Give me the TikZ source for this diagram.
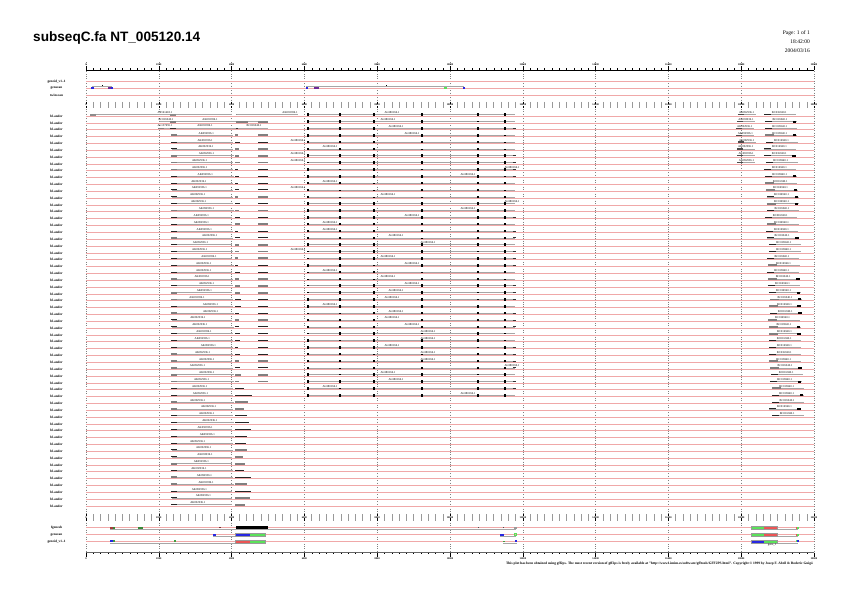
\documentclass[tikz,border=0pt]{standalone}
\usepackage{fontspec}
\setmainfont{Liberation Serif}
\newfontfamily\hvfont{Liberation Sans}
\definecolor{pk}{RGB}{240,168,168}
\definecolor{gbl}{RGB}{40,40,225}
\definecolor{ggr}{RGB}{90,225,90}
\definecolor{grd}{RGB}{235,85,85}
\definecolor{gpu}{RGB}{110,40,150}
\begin{document}
\begin{tikzpicture}[x=1pt,y=-1pt,
  pinkline/.style={draw=pk,line width=0.6pt},
  featline/.style={draw=black!35,line width=0.55pt},
  gridline/.style={draw=black!50,dotted,line width=0.35pt},
  rowlab/.style={font=\fontsize{3.4}{3.6}\selectfont\bfseries,anchor=center,inner sep=0pt},
  tinylab/.style={font=\fontsize{2.9}{3}\selectfont,inner sep=0pt,anchor=base},
  ticklab/.style={font=\fontsize{2.6}{2.8}\selectfont\bfseries,inner sep=0.2pt},
  vmk/.style={fill=black},
  boxed/.style={draw=black!40,line width=0.3pt}
]
\useasboundingbox (0,0) rectangle (842,595);
\fill[white] (0,0) rectangle (842,595);

% title and date
\node[anchor=base west,font=\hvfont\bfseries\fontsize{13.6}{14}\selectfont,inner sep=0pt] (title) at (33,41.5) {subseqC.fa NT\_005120.14};
\node[anchor=east,font=\fontsize{5.5}{6}\selectfont,inner sep=0pt] (page) at (810,33.3) {Page: 1 of 1};
\node[anchor=east,font=\fontsize{5.5}{6}\selectfont,inner sep=0pt] (time) at (810,41.8) {18:42:00};
\node[anchor=east,font=\fontsize{5.5}{6}\selectfont,inner sep=0pt] (date) at (810,50.3) {2004/03/16};

% grid lines, axes
\foreach \k in {0,...,10}{
  \pgfmathsetmacro\xx{86+72.8*\k}
  \draw[gridline] (\xx,62) -- (\xx,557);
}
\draw[line width=0.9pt] (86,70) -- (814,70);
\draw[line width=0.9pt,black!60] (86,552.7) -- (814,552.7);
\foreach \k in {0,...,100}{
  \pgfmathsetmacro\xx{86+7.28*\k}
  \pgfmathtruncatemacro\m{mod(\k,10)}
  \draw[line width=0.3pt] (\xx,70) -- (\xx,68.4);
  \draw[line width=0.3pt] (\xx,552.7) -- (\xx,554.3);
  \ifnum\m>0
    \draw[black!40,line width=0.4pt] (\xx,101.8) -- (\xx,108.2);
    \draw[black!40,line width=0.4pt] (\xx,514.1) -- (\xx,520.5);
  \fi
}

% top tracks
\foreach \yy/\nm/\id in {81.7/geneid\_v1..1/ta,88.3/genscan/tb,95/twinscan/tc}{
  \node[rowlab] (\id) at (56.5,\yy) {\nm};
  \draw[pinkline] (86,\yy) -- (814,\yy);
}

% labels on rulers, axes
\foreach \k/\val in {0/0,1/2000,2/4000,3/6000,4/8000,5/10000,6/12000,7/14000,8/16000,9/18000,10/20000}{
  \pgfmathsetmacro\xx{86+72.8*\k}
  \draw[line width=0.4pt] (\xx,66.3) -- (\xx,70);
  \node[ticklab] (axa\k) at (\xx,64.2) {\val};
  \draw[line width=0.4pt] (\xx,101.8) -- (\xx,108.2);
  \node[ticklab,fill=white] (axb\k) at (\xx,105) {\val};
  \draw[line width=0.4pt] (\xx,514.1) -- (\xx,520.5);
  \node[ticklab,fill=white] (axc\k) at (\xx,517.3) {\val};
  \draw[line width=0.4pt] (\xx,552.7) -- (\xx,556.5);
  \node[ticklab] (axd\k) at (\xx,558.4) {\val};
}

% genes on top track genscan
\draw[featline] (92,86.4) -- (112,86.4);
\fill[gbl] (91.3,87.3) rectangle (93.6,89.4);
\fill[gpu] (108.2,87.3) rectangle (112.8,89.4);
\fill[gbl] (111.4,87.3) rectangle (112.8,89.4);
\fill[black] (102,84.6) rectangle (102.6,85.2);
\draw[featline] (306,86.4) -- (464,86.4);
\fill[gbl] (305.6,87.3) rectangle (308,89.4);
\fill[gpu] (314,87.3) rectangle (318.5,89.4);
\fill[black] (386,84.6) rectangle (386.6,85.2);
\fill[ggr] (443.5,87.3) rectangle (447,89.4);
\fill[gbl] (462.5,87.3) rectangle (464.5,89.4);

% hit rows
\pgfmathsetseed{11}
\foreach \i in {0,...,57}{
  \pgfmathsetmacro\y{116+6.842*\i}
  \node[rowlab] (r\i) at (56.5,\y) {bl.ander};
  \draw[pinkline] (86,\y) -- (814,\y);
}

% special first rows of the left cluster
\draw[featline] (90,114.7) -- (232,114.7);
\fill[black!45] (90,113.9) rectangle (96,115.5);
\fill[black!45] (170,113.9) rectangle (176,115.5);
\node[tinylab] (s0a) at (165,113) {AF161418.1};
\node[tinylab] (s0b) at (290,113) {AK092936.1};
\fill[black!45] (235.5,114) rectangle (237.5,115.4);
\fill[black!45] (244.5,114) rectangle (246.5,115.4);
\fill[black!45] (264.5,114) rectangle (266.5,115.4);
\draw[featline] (237,114.7) -- (298,114.7);
\draw[featline] (160,121.5) -- (268,121.5);
\node[tinylab] (s1a) at (166,120) {BC016940.1};
\node[tinylab] (s1b) at (210,120) {AK092936.1};
\fill[black!50] (170,120.5) rectangle (176,122.5);
\fill[black!50] (235.5,120.5) rectangle (248,122.5);
\fill[black!50] (258,120.5) rectangle (268,122.5);
\draw[featline] (158,128.4) -- (268,128.4);
\node[tinylab] (s2a) at (165,126.8) {AL137655.1};
\node[tinylab] (s2b) at (205,126.8) {AK092936.1};
\node[tinylab] (s2c) at (254,126.8) {BC016940.1};
\fill[black!50] (158,127.6) rectangle (164,129.2);
\fill[black!80] (170,127.8) rectangle (176,129);
\fill[black!80] (236,127.8) rectangle (238,129);

% left cluster
\foreach \i in {3,...,57}{
  \pgfmathsetmacro\y{116+6.842*\i}
  \pgfmathsetmacro\ya{\y-1.3}
  \pgfmathsetmacro\tx{197+14*rnd}
  \pgfmathtruncatemacro\g{rnd>0.6}
  \pgfmathsetmacro\ex{232+2*rnd}
  \draw[featline] (172,\ya) -- (\ex,\ya);
  \ifnum\g=1
    \fill[black!50] (171,\ya-0.9) rectangle (176.5,\ya+0.9);
  \else
    \fill[black!85] (171,\ya-0.5) rectangle (176.5,\ya+0.5);
  \fi
  \node[tinylab] (la\i) at (\tx,\y-2.3) {AK092936.1};
  \pgfmathtruncatemacro\h{rnd>0.6}
  \ifnum\i<40
    \pgfmathsetmacro\ra{238+3*rnd}
    \ifnum\h=1
      \fill[black!50] (235,\ya-0.9) rectangle (\ra,\ya+0.9);
      \fill[black!50] (258,\ya-0.9) rectangle (268,\ya+0.9);
    \else
      \fill[black!85] (235,\ya-0.5) rectangle (\ra,\ya+0.5);
      \fill[black!85] (258,\ya-0.5) rectangle (268,\ya+0.5);
    \fi
  \else
    \pgfmathsetmacro\ra{240+12*rnd}
    \ifnum\h=1
      \fill[black!50] (235,\ya-0.9) rectangle (\ra,\ya+0.9);
    \else
      \fill[black!85] (235,\ya-0.5) rectangle (\ra,\ya+0.5);
    \fi
  \fi
}

% middle cluster
\foreach \i in {0,...,41}{
  \pgfmathsetmacro\y{116+6.842*\i}
  \pgfmathsetmacro\ya{\y-1.3}
  \draw[featline] (308,\ya) -- (515,\ya);
  \foreach \p in {308,340,374,422,478,505}{
    \pgfmathtruncatemacro\s{rnd>0.15}
    \ifnum\s=1
      \fill[vmk] (\p-0.7,\ya-1.3) rectangle (\p+0.7,\ya+1.3);
    \else
      \fill[vmk] (\p-0.7,\ya-0.3) rectangle (\p+0.7,\ya+0.3);
    \fi
  }
  \pgfmathtruncatemacro\d{rnd>0.4}
  \ifnum\d=1
    \fill[black!80] (512.5,\ya-0.4) rectangle (516,\ya+0.4);
  \fi
  \pgfmathtruncatemacro\ci{int(rnd*9)}
  \pgfmathsetmacro\tx{{298,330,388,392,396,412,428,468,512}[\ci]}
  \node[tinylab] (lm\i) at (\tx,\y-2.3) {AL080166.1};
}

% right cluster
\foreach \i in {0,...,44}{
  \pgfmathsetmacro\y{116+6.842*\i}
  \pgfmathsetmacro\ya{\y-1.3}
  \pgfmathsetmacro\s{763+0.15*\i+3*rnd}
  \draw[featline] (\s,\ya) -- (\s+32,\ya);
  \pgfmathtruncatemacro\a{rnd>0.45}
  \ifnum\a=1
    \fill[black] (\s+28,\ya-1) rectangle (\s+31.5,\ya+1);
  \fi
  \pgfmathtruncatemacro\b{rnd>0.6}
  \ifnum\b=1
    \fill[black!50] (\s,\ya-0.9) rectangle (\s+9,\ya+0.9);
  \else
    \fill[black!85] (\s,\ya-0.45) rectangle (\s+7,\ya+0.45);
  \fi
  \node[tinylab] (lr\i) at (\s+15,\y-2.3) {BC016940.1};
  \ifnum\i<8
    \pgfmathsetmacro\q{734+4*rnd}
    \draw[featline] (\q,\ya) -- (\q+18,\ya);
    \fill[black!70] (\q,\ya-0.6) rectangle (\q+6,\ya+0.6);
    \node[tinylab] (lq\i) at (\q+9,\y-2.3) {AK092936.1};
  \fi
}

% bottom tracks
\foreach \yy/\nm/\id in {527.7/fgenesh/ba,534.5/genscan/bb,541.3/geneid\_v1..1/bc}{
  \node[rowlab] (\id) at (56.5,\yy) {\nm};
  \draw[pinkline] (86,\yy) -- (814,\yy);
}
% fgenesh
\draw[featline] (110,529.5) -- (516,529.5);
\fill[grd!70!black] (110,526.6) rectangle (112.5,528.6);
\fill[ggr!60!black] (112.5,526.6) rectangle (115,528.6);
\fill[ggr!60!black] (138,526.6) rectangle (143,528.6);
\fill[grd!50!black] (219,526.8) rectangle (220.5,528.4);
\fill[black] (235.5,526) rectangle (268,529.3);
\fill[black!70] (477.5,526.9) rectangle (479,528.3);
\fill[black!70] (502.5,526.9) rectangle (504,528.3);
\fill[black!40] (514,526.6) rectangle (516.5,528.6);
\draw[featline] (777,529.6) -- (798,529.6);
\fill[ggr] (751.5,526) rectangle (764,529.3);
\fill[grd] (764,526) rectangle (777,529.3);
\draw[boxed] (751.5,526) rectangle (777,529.3);
\fill[grd] (795.5,526.6) rectangle (797.3,528.6);
\fill[ggr] (797.3,526.6) rectangle (799,528.6);
% genscan
\draw[featline] (213,536.3) -- (242,536.3);
\fill[gbl] (213,533.5) rectangle (216,535.5);
\fill[gbl] (235.5,533) rectangle (250,536.2);
\fill[ggr] (250,533) rectangle (265.5,536.2);
\draw[boxed] (235.5,533) rectangle (265.5,536.2);
\draw[featline] (500,536.3) -- (516,536.3);
\fill[gbl] (500,533.5) rectangle (504,535.5);
\draw[ggr,line width=0.5pt] (514.5,533.5) rectangle (516.5,535.5);
\draw[featline] (777,536.4) -- (798,536.4);
\fill[ggr] (751.5,532.9) rectangle (764,536.1);
\fill[grd] (764,532.9) rectangle (777,536.1);
\draw[boxed] (751.5,532.9) rectangle (777,536.1);
\fill[grd] (795.5,533.5) rectangle (797.3,535.5);
\fill[ggr] (797.3,533.5) rectangle (799,535.5);
% geneid
\draw[featline] (110,543.1) -- (235,543.1);
\fill[gbl] (110,540.3) rectangle (113,542.3);
\fill[ggr!70!black] (113,540.3) rectangle (115,542.3);
\fill[ggr!70!black] (174,540.3) rectangle (176,542.3);
\fill[grd] (235.5,539.8) rectangle (250,543);
\fill[ggr] (250,539.8) rectangle (265.5,543);
\draw[boxed] (235.5,539.8) rectangle (265.5,543);
\draw[featline] (503,543.1) -- (517,543.1);
\fill[ggr!70!black] (503,540.5) rectangle (504.5,542.1);
\fill[gbl] (514.5,540.3) rectangle (517,542.3);
\draw[featline] (777,543.2) -- (798,543.2);
\fill[gbl] (751.5,539.7) rectangle (764,542.9);
\fill[ggr] (764,539.7) rectangle (777,542.9);
\draw[boxed] (751.5,539.7) rectangle (777,542.9);
\fill[ggr] (795.5,540.3) rectangle (797.3,542.3);
\fill[gbl] (797.3,540.3) rectangle (799,542.3);
\node[tinylab] (bcl) at (772,545.6) {gene\_1};

% footer
\node[anchor=base east,font=\fontsize{3.5}{4}\selectfont\bfseries,inner sep=0pt] (foot) at (813,564.6) {This plot has been obtained using gff2ps. The most recent version of gff2ps is freely available at "http://www1.imim.es/software/gfftools/GFF2PS.html". Copyright \textcopyright{} 1999 by Josep F. Abril \& Roderic Guig\'o};
\end{tikzpicture}
\end{document}
